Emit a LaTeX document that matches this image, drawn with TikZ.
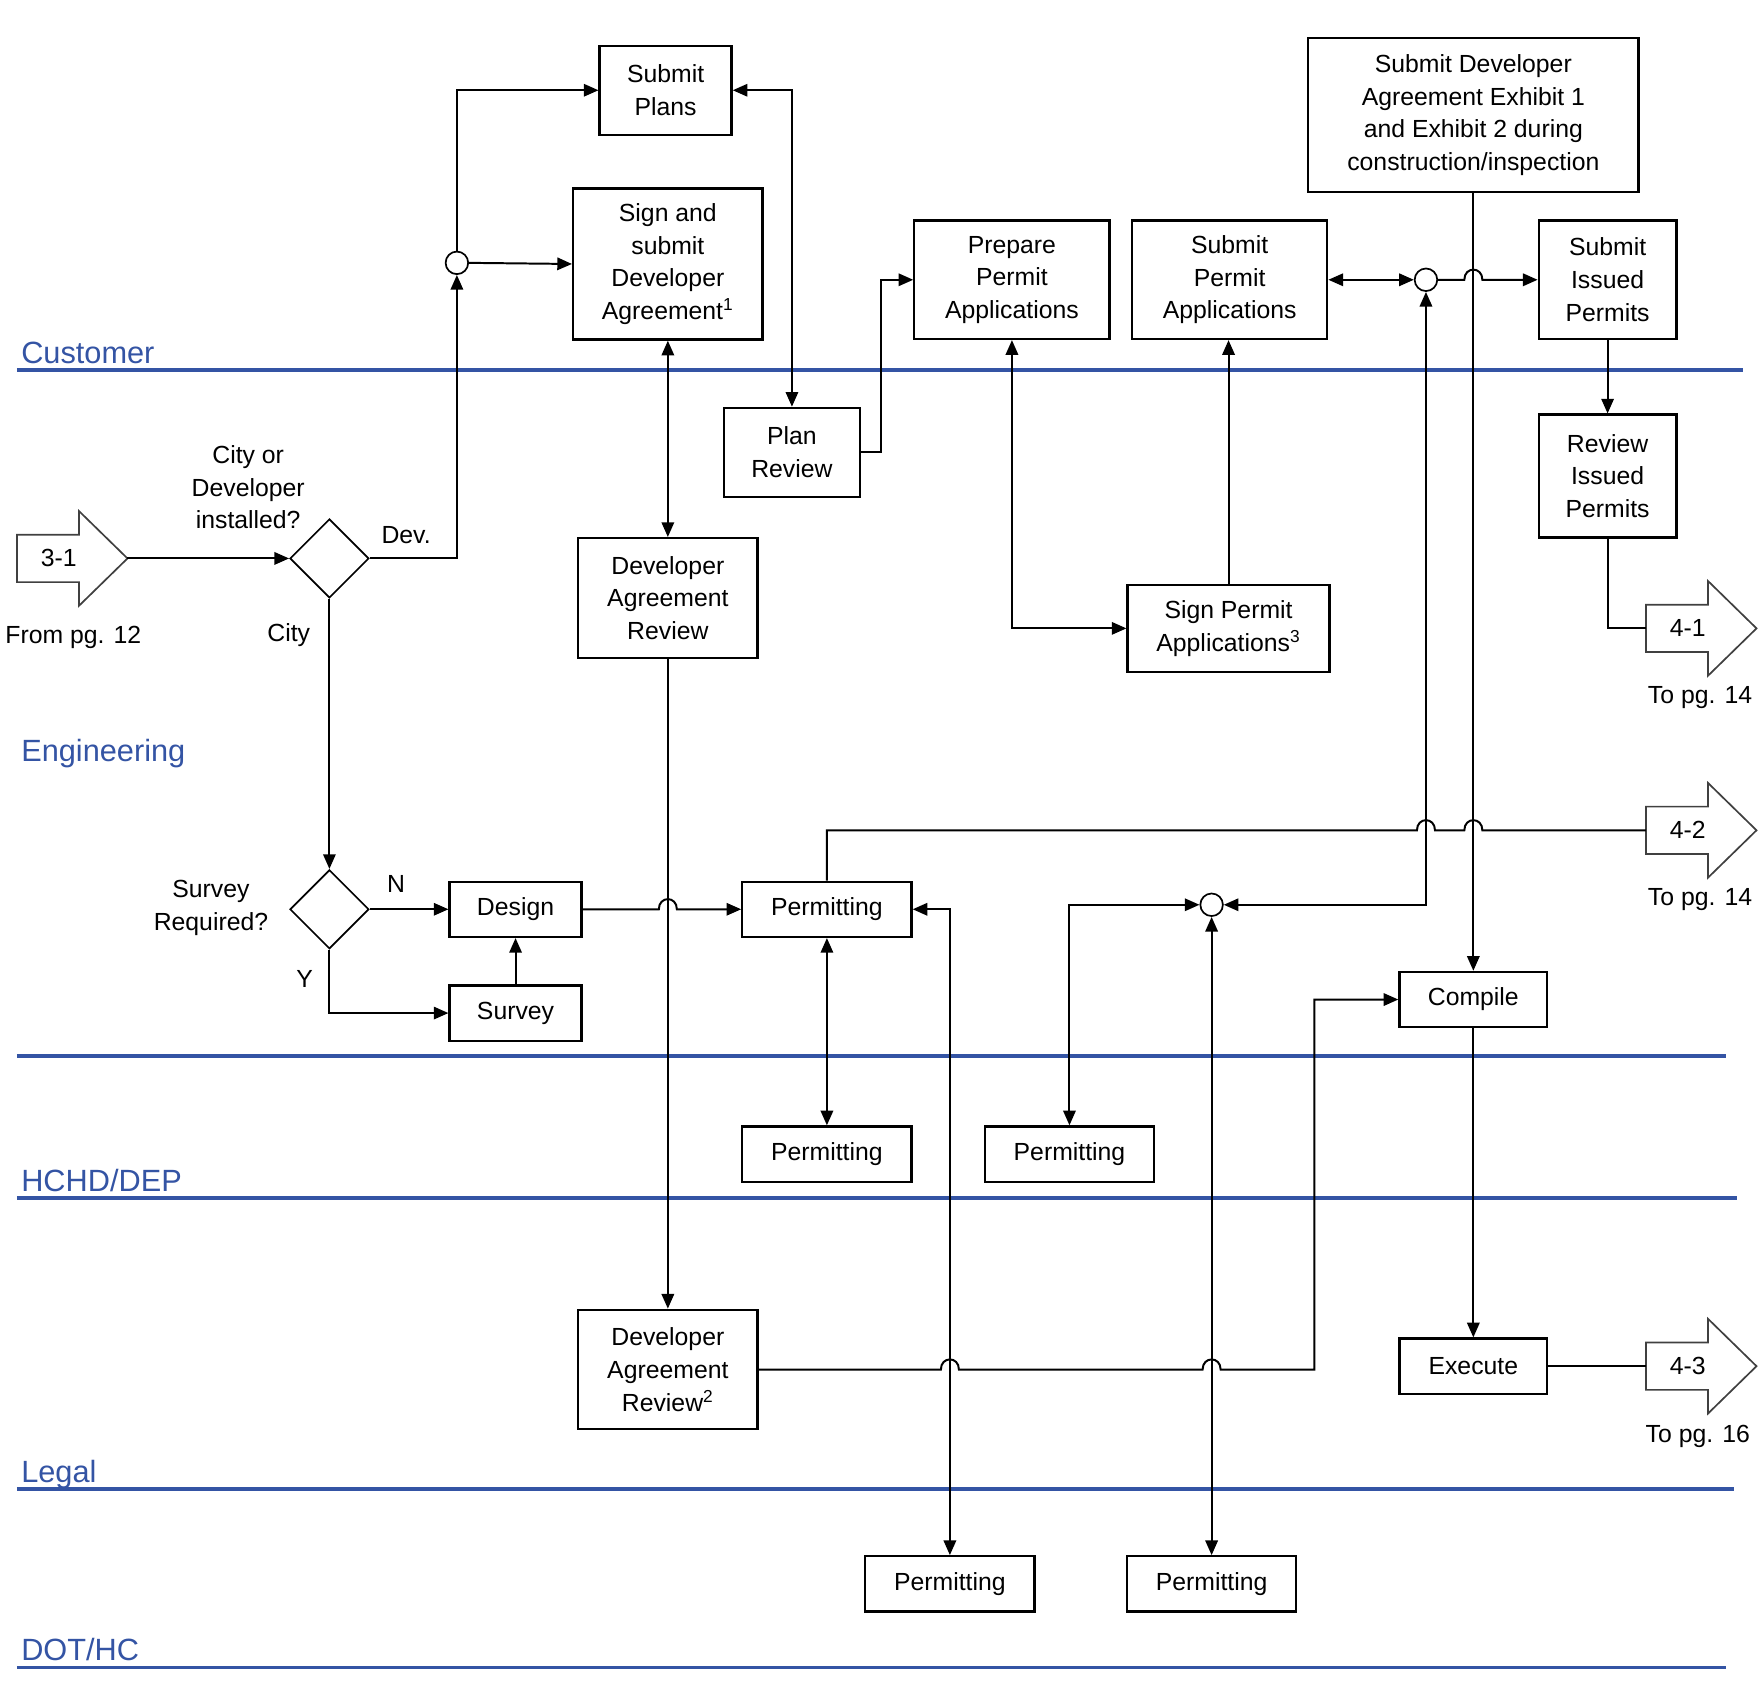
\documentclass[tikz,border=0pt]{standalone}
\usepackage{fontspec}
\setmainfont{Liberation Sans}
\usetikzlibrary{arrows.meta,shapes.geometric}
\definecolor{lanecol}{RGB}{52,84,164}
\tikzset{
  txt/.style={font=\fontsize{12.5}{16.5}\selectfont, align=center, inner sep=0pt},
  box/.style={txt, draw, line width=0.4mm, fill=white},
  dec/.style={diamond, draw, line width=0.3mm, minimum size=14mm, inner sep=0pt},
  junc/.style={circle, draw, line width=0.3mm, fill=white, minimum size=4mm, inner sep=0pt},
  lane/.style={draw=lanecol, line width=0.6mm},
  lanelbl/.style={text=lanecol, font=\fontsize{15.5}{18}\selectfont, anchor=base west, inner sep=0pt},
}
\begin{document}
\begin{tikzpicture}[x=0.2mm,y=-0.2mm,>={Triangle[length=2.6mm,width=2.2mm]},line width=0.35mm]
\useasboundingbox (0,0) rectangle (1561,1500);

% swim lanes
\draw[lane] (15,328) -- (1545,328);
\draw[lane] (15,936) -- (1530,936);
\draw[lane] (15,1062) -- (1540,1062);
\draw[lane] (15,1320) -- (1537,1320);
\draw[lane] (15,1478) -- (1530,1478);
\node[lanelbl] (lcust) at (18,322) {Customer};
\node[lanelbl] (leng) at (18,675) {Engineering};
\node[lanelbl] (lhchd) at (18,1056) {HCHD/DEP};
\node[lanelbl] (llegal) at (18,1314) {Legal};
\node[lanelbl] (ldot) at (18,1472) {DOT/HC};

% page connectors
\foreach \x/\y/\t/\n in {15/495/3-1/a31, 1459/557/4-1/a41, 1459/736/4-2/a42, 1459/1211/4-3/a43}{
  \draw[line width=0.3mm, draw=black!75] (\x,\y-21) -- (\x+55,\y-21) -- (\x+55,\y-42) -- (\x+98,\y)
     -- (\x+55,\y+42) -- (\x+55,\y+21) -- (\x,\y+21) -- cycle;
  \node[txt] at (\x+37,\y) {\t};
  \coordinate (\n-in) at (\x,\y);
  \coordinate (\n-tip) at (\x+98,\y);
}
\node[txt] (from12) at (65,565) {From pg. 12};
\node[txt] (to14a) at (1507,618) {To pg. 14};
\node[txt] (to14b) at (1507,797) {To pg. 14};
\node[txt] (to16) at (1505,1273) {To pg. 16};

% customer
\node[box, minimum width=23.4mm, minimum height=15.8mm] (plans) at (590,80) {Submit\\Plans};
\node[box, minimum width=33.6mm, minimum height=26.8mm] (sign) at (592,234) {Sign and\\submit\\Developer\\Agreement\textsuperscript{1}};
\node[box, minimum width=34.6mm, minimum height=21mm] (prep) at (897,248) {Prepare\\Permit\\Applications};
\node[box, minimum width=34.6mm, minimum height=21mm] (subperm) at (1090,248) {Submit\\Permit\\Applications};
\node[box, minimum width=58.6mm, minimum height=27.4mm] (exhibit) at (1306,102) {Submit Developer\\Agreement Exhibit 1\\and Exhibit 2 during\\construction/inspection};
\node[box, minimum width=24.4mm, minimum height=21mm] (subiss) at (1425,248) {Submit\\Issued\\Permits};
\node[box, minimum width=24.4mm, minimum height=21.8mm] (reviss) at (1425,422) {Review\\Issued\\Permits};
\node[junc] (c1) at (405,233) {};
\node[junc] (c2) at (1264,248) {};

% engineering
\node[box, minimum width=24mm, minimum height=15.8mm] (planrev) at (702,401) {Plan\\Review};
\node[box, minimum width=31.8mm, minimum height=21.2mm] (dar) at (592,530) {Developer\\Agreement\\Review};
\node[box, minimum width=35.8mm, minimum height=15.4mm] (signperm) at (1089,557) {Sign Permit\\Applications\textsuperscript{3}};
\node[dec] (d1) at (292,495) {};
\node[dec] (d2) at (292,806) {};
\node[txt] (q1) at (220,432) {City or\\Developer\\installed?};
\node[txt] (ldev) at (360,474) {Dev.};
\node[txt] (lcity) at (256,563) {City};
\node[txt] (q2) at (187,805) {Survey\\Required?};
\node[txt] (ln) at (351,784) {N};
\node[txt] (ly) at (270,868) {Y};
\node[box, minimum width=23.4mm, minimum height=9.8mm] (design) at (457,806) {Design};
\node[box, minimum width=23.4mm, minimum height=9.8mm] (survey) at (457,898) {Survey};
\node[box, minimum width=30mm, minimum height=9.8mm] (permE) at (733,806) {Permitting};
\node[box, minimum width=26.2mm, minimum height=9.8mm] (compile) at (1306,886) {Compile};
\node[junc] (c3) at (1074,802) {};

% HCHD/DEP
\node[box, minimum width=30mm, minimum height=9.8mm] (permH1) at (733,1023) {Permitting};
\node[box, minimum width=30mm, minimum height=9.8mm] (permH2) at (948,1023) {Permitting};

% legal
\node[box, minimum width=31.8mm, minimum height=21.2mm] (darL) at (592,1214) {Developer\\Agreement\\Review\textsuperscript{2}};
\node[box, minimum width=26.2mm, minimum height=9.8mm] (execute) at (1306,1211) {Execute};

% DOT/HC
\node[box, minimum width=30mm, minimum height=9.8mm] (permD1) at (842,1404) {Permitting};
\node[box, minimum width=30mm, minimum height=9.8mm] (permD2) at (1074,1404) {Permitting};

% connectors
\draw[->] (a31-tip) -- (d1.west);
\draw[->] (d1.east) -| (c1.south);
\draw[->] (c1.north) |- (plans.west);
\draw[->] (c1.east) -- (sign.west);
\draw[<->] (plans.east) -| (planrev.north);
\draw[<->] (sign.south) -- (dar.north);
\draw[->] (dar.south) -- (darL.north);
\draw[->] (planrev.east) -- ++(18,0) |- (prep.west);
\draw[<->] (prep.south) |- (signperm.west);
\draw[->] (signperm.north) -- (signperm.north |- subperm.south);
\draw[<->] (subperm.east) -- (c2.west);
\draw[->] (c2.east) -- (1298,248) .. controls (1298,236) and (1314,236) .. (1314,248) -- (subiss.west);
\draw[->] (exhibit.south) -- (compile.north);
\draw[->] (compile.south) -- (execute.north);
\draw[->] (subiss.south) -- (reviss.north);
\draw (reviss.south) |- (a41-in);
\draw[->] (d1.south) -- (d2.north);
\draw[->] (d2.east) -- (design.west);
\draw[->] (d2.south) |- (survey.west);
\draw[->] (survey.north) -- (design.south);
\draw[->] (design.east) -- (584,806) .. controls (584,794) and (600,794) .. (600,806) -- (permE.west);
\draw (permE.north) -- (733,736) -- (1256,736) .. controls (1256,724) and (1272,724) .. (1272,736)
   -- (1298,736) .. controls (1298,724) and (1314,724) .. (1314,736) -- (a42-in);
\draw[<->] (permE.south) -- (permH1.north);
\draw[<->] (permE.east) -| (permD1.north);
\draw[<->] (permH2.north) |- (c3.west);
\draw[<->] (c3.east) -| (c2.south);
\draw[<->] (c3.south) -- (permD2.north);
\draw[->] (darL.east) -- (834,1214) .. controls (834,1202) and (850,1202) .. (850,1214)
   -- (1066,1214) .. controls (1066,1202) and (1082,1202) .. (1082,1214) -- (1165,1214) |- (compile.west);
\draw (execute.east) -- (a43-in);
\end{tikzpicture}
\end{document}
